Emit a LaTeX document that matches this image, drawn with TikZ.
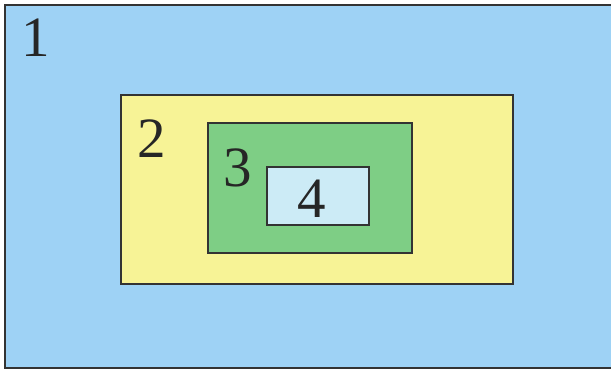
\documentclass[tikz,border=0pt]{standalone}
\usepackage{fontspec}
\setmainfont{Liberation Serif}
\begin{document}
\begin{tikzpicture}[x=1pt,y=-1pt,
  box/.style={draw=black!80, line width=1.6pt},
  num/.style={font=\fontsize{57}{57}\selectfont, text=black!85, inner sep=0pt}]
\definecolor{cblue}{RGB}{158,210,245}
\definecolor{cyellow}{RGB}{247,243,150}
\definecolor{cgreen}{RGB}{126,206,133}
\definecolor{ccyan}{RGB}{204,235,246}
\useasboundingbox (0,0) rectangle (611,371);
\clip (0,0) rectangle (611,371);
\fill[white] (0,0) rectangle (611,371);
\draw[box, fill=cblue] (5,5) rectangle (630,368);
\draw[box, fill=cyellow] (121,95) rectangle (513,284);
\draw[box, fill=cgreen] (208,123) rectangle (412,253);
\draw[box, fill=ccyan] (267,167) rectangle (369,225);
\node[num] (n1) at (36,38) {1};
\node[num] (n2) at (152,139) {2};
\node[num] (n3) at (238,168) {3};
\node[num] (n4) at (312,199) {4};
\end{tikzpicture}
\end{document}
